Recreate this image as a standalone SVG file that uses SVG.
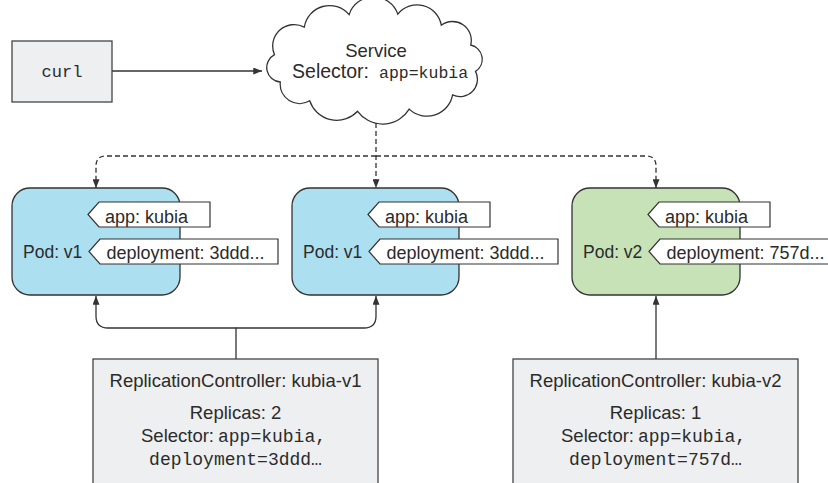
<svg xmlns="http://www.w3.org/2000/svg" width="828" height="483" viewBox="0 0 828 483">
<style>
.sans{font-family:"Liberation Sans",Arial,sans-serif;font-size:18px;fill:#2b2b2b}
.rc{font-size:18.5px}
.pod{font-size:17.5px}
.mono{font-family:"Liberation Mono","Courier New",monospace;font-size:16px;fill:#2b2b2b}
.mono18{font-size:18px}
.box{fill:#eeeff0;stroke:#444;stroke-width:1.3}
.podb{fill:#acdfef;stroke:#333;stroke-width:1.3}
.podg{fill:#c7e2b7;stroke:#333;stroke-width:1.3}
.tag{fill:#fff;stroke:#333;stroke-width:1.2}
.ln{fill:none;stroke:#333;stroke-width:1.3}
.dash{fill:none;stroke:#333;stroke-width:1.3;stroke-dasharray:5 3}
</style>
<defs>
<marker id="ah" viewBox="0 0 10 8" refX="10" refY="4" markerWidth="10" markerHeight="7" markerUnits="userSpaceOnUse" orient="auto">
<path d="M0,0 L10,4 L0,8 Z" fill="#333"/>
</marker>
</defs>

<g id="connectors">
<path class="ln" d="M112,71 H262" marker-end="url(#ah)"/>
<path class="dash" d="M376,123 V188" marker-end="url(#ah)"/>
<path class="dash" d="M376,156 H106 Q96,156 96,166 V188" marker-end="url(#ah)"/>
<path class="dash" d="M376,156 H646 Q656,156 656,166 V188" marker-end="url(#ah)"/>
<path class="ln" d="M236,359 V328 H108 Q96,328 96,316 V296" marker-end="url(#ah)"/>
<path class="ln" d="M236,328 H364 Q376,328 376,316 V296" marker-end="url(#ah)"/>
<path class="ln" d="M656,359 V296" marker-end="url(#ah)"/>
</g>

<g id="curl">
<rect class="box" x="12" y="41" width="100" height="61"/>
<text class="mono" x="62" y="77" text-anchor="middle" style="font-size:17px">curl</text>
</g>

<g id="service">
<path fill="#fff" stroke="#333" stroke-width="1.3" d="M274.5,54.7 A21.5,21.5 0 0 1 304.3,27.1 A25.6,25.6 0 0 1 349.1,14.6 A25.7,25.7 0 0 1 397.8,14.1 A24.6,24.6 0 0 1 441.3,25.2 A18.8,18.8 0 0 1 470.7,45 A14.5,14.5 0 0 1 475.5,71.4 A17.3,17.3 0 0 1 452.6,94.9 A26,26 0 0 1 409.2,109.1 A31,31 0 0 1 357.6,111.3 A28.5,28.5 0 0 1 309.7,100.8 A19.5,19.5 0 0 1 280.3,82 A14.5,14.5 0 0 1 274.5,54.7 Z"/>
<text class="sans rc" x="376" y="56.5" text-anchor="middle">Service</text>
<text class="sans" x="369" y="78" text-anchor="end" style="font-size:19.5px">Selector:</text>
<text class="mono" x="379" y="78" style="font-size:16.5px">app=kubia</text>
</g>

<g id="pod1">
<rect class="podb" x="12" y="188" width="168" height="107" rx="18"/>
<text class="sans pod" x="23" y="258">Pod: v1</text>
<path class="tag" d="M88,214.5 L99,202 H210 V227 H99 Z"/>
<text class="sans" x="105" y="222.5">app: kubia</text>
<path class="tag" d="M89,251.5 L100,239 H278 V264 H100 Z"/>
<text class="sans" x="106.5" y="259">deployment: 3ddd...</text>
</g>

<g id="pod2">
<rect class="podb" x="292" y="188" width="167" height="107" rx="18"/>
<text class="sans pod" x="303" y="258">Pod: v1</text>
<path class="tag" d="M368,214.5 L379,202 H490 V227 H379 Z"/>
<text class="sans" x="385" y="222.5">app: kubia</text>
<path class="tag" d="M369,251.5 L380,239 H558 V264 H380 Z"/>
<text class="sans" x="386.5" y="259">deployment: 3ddd...</text>
</g>

<g id="pod3">
<rect class="podg" x="572" y="188" width="168" height="107" rx="18"/>
<text class="sans pod" x="583" y="258">Pod: v2</text>
<path class="tag" d="M648,214.5 L659,202 H770 V227 H659 Z"/>
<text class="sans" x="665" y="222.5">app: kubia</text>
<path class="tag" d="M649,251.5 L660,239 H850 V264 H660 Z"/>
<text class="sans" x="666.5" y="259">deployment: 757d...</text>
</g>

<g id="rc1">
<rect class="box" x="93" y="359" width="285" height="140"/>
<text class="sans rc" x="235.5" y="386.5" text-anchor="middle">ReplicationController: kubia-v1</text>
<text class="sans rc" x="235.5" y="419" text-anchor="middle">Replicas: 2</text>
<text class="sans rc" x="141" y="441.5">Selector:</text>
<text class="mono mono18" x="218" y="441.5">app=kubia,</text>
<text class="mono mono18" x="235.5" y="465" text-anchor="middle">deployment=3ddd…</text>
</g>

<g id="rc2">
<rect class="box" x="513" y="359" width="285" height="140"/>
<text class="sans rc" x="655.5" y="386.5" text-anchor="middle">ReplicationController: kubia-v2</text>
<text class="sans rc" x="655.5" y="419" text-anchor="middle">Replicas: 1</text>
<text class="sans rc" x="561" y="441.5">Selector:</text>
<text class="mono mono18" x="638" y="441.5">app=kubia,</text>
<text class="mono mono18" x="655.5" y="465" text-anchor="middle">deployment=757d…</text>
</g>
</svg>
